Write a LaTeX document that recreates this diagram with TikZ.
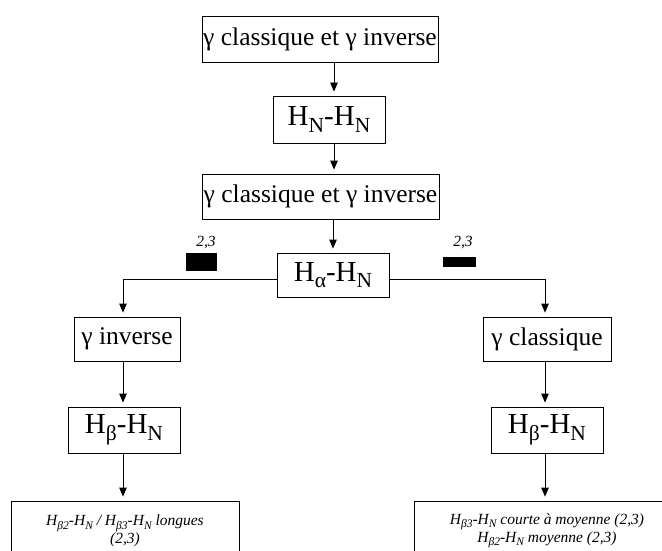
\documentclass[tikz,border=0pt]{standalone}
\usepackage{fontspec}
\setmainfont{Liberation Serif}
\usetikzlibrary{arrows.meta}
\newcommand\subA[1]{\raisebox{-0.23em}{\fontsize{21.5}{22}\selectfont #1}}
\newcommand\subB[1]{\raisebox{-0.22em}{\fontsize{11.5}{12}\selectfont #1}}
\begin{document}
\begin{tikzpicture}[x=1pt,y=-1pt,
  box/.style={draw, line width=0.8pt, inner sep=0pt},
  gfont/.style={font=\fontsize{25.5}{30}\selectfont},
  hfont/.style={font=\fontsize{29}{32}\selectfont},
  ifont/.style={font=\fontsize{15.5}{18}\selectfont\itshape},
  arr/.style={line width=0.8pt, -{Triangle[width=7.5pt,length=9pt]}, shorten >=4pt},
  bar/.style={fill=black, inner sep=0pt}]
\clip (0,0) rectangle (662,551);
\fill[white] (0,0) rectangle (662,551);
% helper coordinates
\coordinate (cx) at (334,0);
\coordinate (hl) at (0,279);
\coordinate (lx) at (123,0);
\coordinate (rx) at (545,0);
% nodes
\node[box, gfont, minimum width=236, minimum height=46] (b1) at (320,39) {γ classique et γ inverse};
\node[box, hfont, minimum width=112, minimum height=47] (b2) at (329,119.5) {H\subA{N}-H\subA{N}};
\node[box, gfont, minimum width=237, minimum height=45] (b3) at (320.5,196.5) {γ classique et γ inverse};
\node[box, hfont, minimum width=112, minimum height=44] (ha) at (333,275) {H\subA{α}-H\subA{N}};
\node[box, gfont, minimum width=106, minimum height=44] (gi) at (127,339) {γ inverse};
\node[box, hfont, minimum width=112, minimum height=46] (hbl) at (124,430) {H\subA{β}-H\subA{N}};
\node[box, gfont, minimum width=128, minimum height=44] (gc) at (547,339) {γ classique};
\node[box, hfont, minimum width=112, minimum height=46] (hbr) at (547,430) {H\subA{β}-H\subA{N}};
\node[box, ifont, minimum width=228, minimum height=60, align=center] (bl) at (125,531)
  {H\subB{β2}-H\subB{N} / H\subB{β3}-H\subB{N} longues\\(2,3)};
\node[box, ifont, minimum width=266, minimum height=60, align=center] (br) at (547,531)
  {H\subB{β3}-H\subB{N} courte à moyenne (2,3)\\H\subB{β2}-H\subB{N} moyenne (2,3)};
% labels and bars
\node[ifont, inner sep=0pt] (l1) at (206,243) {2,3};
\node[ifont, inner sep=0pt] (l2) at (463,243) {2,3};
\node[bar, minimum width=31, minimum height=18] (r1) at (201.5,262) {};
\node[bar, minimum width=33, minimum height=10] (r2) at (459.5,262) {};
% connectors
\draw[arr] (b1.south -| cx) -- (b2.north -| cx);
\draw[arr] (b2.south -| cx) -- (b3.north -| cx);
\draw[arr] (b3.south -| ha.north) -- (ha.north);
\draw[arr] (ha.west |- hl) -| (gi.north -| lx);
\draw[arr] (ha.east |- hl) -| (gc.north -| rx);
\draw[arr] (gi.south -| lx) -- (hbl.north -| lx);
\draw[arr] (gc.south -| rx) -- (hbr.north -| rx);
\draw[arr] (hbl.south -| lx) -- (bl.north -| lx);
\draw[arr] (hbr.south -| rx) -- (br.north -| rx);
\end{tikzpicture}
\end{document}
